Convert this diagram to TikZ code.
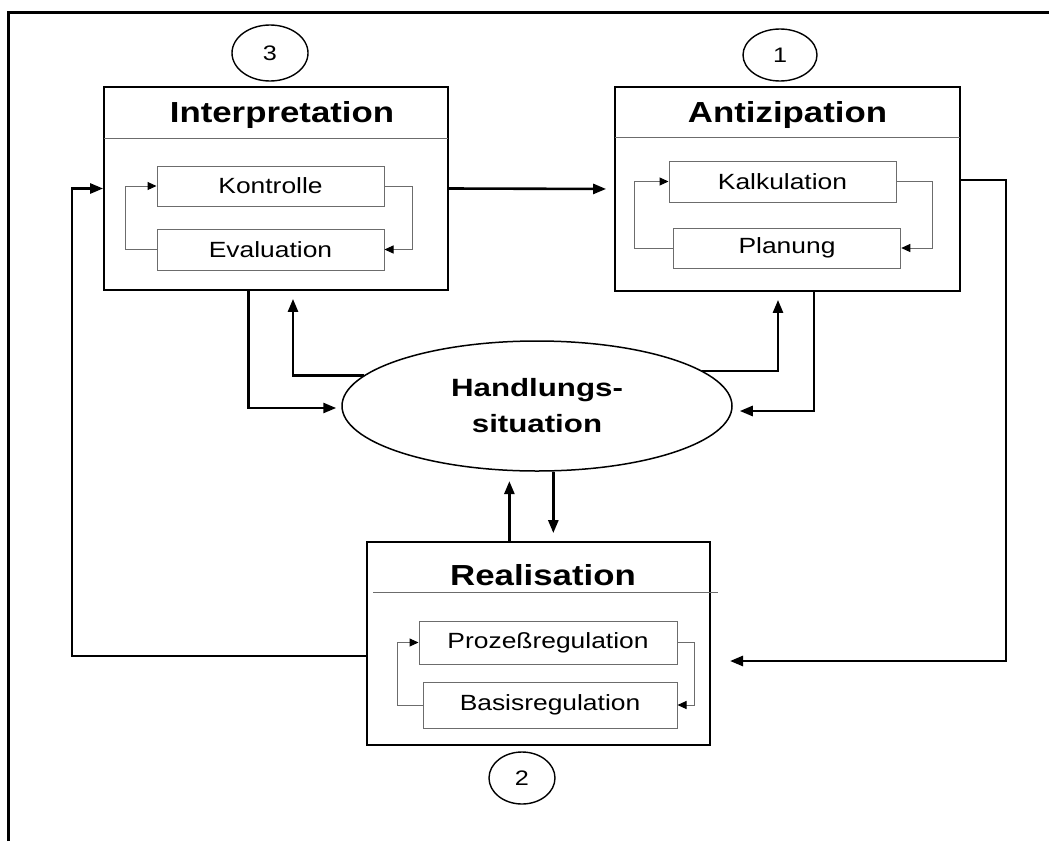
\documentclass[tikz,border=0pt]{standalone}
\usepackage{fontspec}
\setmainfont{Liberation Sans}
\newfontfamily\wide[FakeStretch=1.2]{Liberation Sans}
\newfontfamily\wider[FakeStretch=1.25]{Liberation Sans}
\usetikzlibrary{arrows.meta,shapes.geometric}
\begin{document}
\begin{tikzpicture}[x=1pt,y=-1pt,
  bigbox/.style={draw,line width=1.8pt,inner sep=0pt},
  boxtitle/.style={font=\wide\bfseries\fontsize{29}{34}\selectfont,inner sep=0pt},
  subbox/.style={draw=gray!85!black,line width=1pt,inner sep=0pt,font=\wide\fontsize{22}{26}\selectfont},
  numcirc/.style={ellipse,draw,line width=1.4pt,inner sep=0pt,font=\wide\fontsize{21}{24}\selectfont},
  divider/.style={draw=gray!85!black,line width=1pt},
  conn/.style={line width=2.6pt,-{Triangle[length=13pt,width=10pt]}},
  innerloop/.style={draw=gray!85!black,line width=1pt,-{Triangle[length=9pt,width=8pt,color=black]}}
]
\useasboundingbox (0,0) rectangle (1049,841);
% outer frame
\draw[line width=3pt] (8,841) -- (8,12) -- (1049,12);

% main boxes
\node[bigbox,minimum width=344pt,minimum height=203pt] (interp) at (276,188.5) {};
\node[bigbox,minimum width=345pt,minimum height=204pt] (antiz) at (787.5,189) {};
\node[bigbox,minimum width=343pt,minimum height=203pt] (real) at (538.5,643.5) {};

% titles
\node[boxtitle] (tinterp) at (282,115) {Interpretation};
\node[boxtitle] (tantiz) at (787.5,115) {Antizipation};
\node[boxtitle] (treal) at (543,575) {Realisation};

% dividers
\draw[divider] (104,138) -- (448,138);
\draw[divider] (615,137) -- (960,137);
\draw[divider] (373,592) -- (718,592);

% number circles
\node[numcirc,minimum width=76pt,minimum height=56pt] (c3) at (270,53) {3};
\node[numcirc,minimum width=74pt,minimum height=52pt] (c1) at (780,55) {1};
\node[numcirc,minimum width=66pt,minimum height=52pt] (c2) at (522,778) {2};

% sub boxes
\node[subbox,minimum width=227pt,minimum height=40pt] (kon) at (270.5,186) {Kontrolle};
\node[subbox,minimum width=227pt,minimum height=41pt] (eva) at (270.5,249.5) {Evaluation};
\node[subbox,minimum width=227pt,minimum height=41pt] (kal) at (782.5,181.5) {Kalkulation};
\node[subbox,minimum width=227.5pt,minimum height=40pt] (plan) at (787,248) {Planung};
\node[subbox,minimum width=258pt,minimum height=43pt] (proz) at (548,642.5) {Prozeßregulation};
\node[subbox,minimum width=254pt,minimum height=46pt] (basis) at (550,705) {Basisregulation};

% central ellipse
\node[ellipse,draw,line width=1.5pt,minimum width=390pt,minimum height=130pt,inner sep=0pt,
      align=center,font=\wider\bfseries\fontsize{25}{36}\selectfont] (hs) at (537,406) {Handlungs-\\situation};

% inner loops
\draw[innerloop] (kon.east) -- ++(28,0) |- (eva.east);
\draw[innerloop] (eva.west) -- ++(-31,0) |- (kon.west);
\draw[innerloop] (kal.east) -- ++(36,0) |- (plan.east);
\draw[innerloop] (plan.west) -- ++(-38.5,0) |- (kal.west);
\draw[innerloop] (proz.east) -- ++(17,0) |- (basis.east);
\draw[innerloop] (basis.west) -- ++(-25,0) |- (proz.west);

% outer connectors
\draw[conn,shorten >=8pt] (interp.east) -- (antiz.west);

\coordinate (rc1) at (1006,180);
\coordinate (rc2) at (1006,661);
\coordinate (rin) at (730,661);
\draw[conn] ([yshift=9pt]antiz.east) -- (rc1) -- (rc2) -- (rin);

\coordinate (lc1) at (72,656);
\coordinate (lc2) at (72,188.5);
\draw[conn] ([yshift=-12.5pt]real.west) -- (lc1) -- (lc2) -- (interp.west);

\draw[conn,shorten >=5pt] ([xshift=-27.5pt]interp.south) |- ([yshift=-2pt]hs.west);
\draw[conn,shorten >=8pt] (hs.170) -| ([xshift=17pt]interp.south);
\draw[conn,shorten >=8pt] (hs.12) -| ([xshift=-9.5pt]antiz.south);
\draw[conn,shorten >=7pt] ([xshift=26.5pt]antiz.south) |- ([yshift=-5pt]hs.east);

\draw[conn,shorten >=10pt] (hs.-113.5 |- real.north) -- (hs.-113.5);
\draw[conn,shorten >=8pt] (hs.-76 |- hs.south) -- (hs.-76 |- real.north);
\end{tikzpicture}
\end{document}
